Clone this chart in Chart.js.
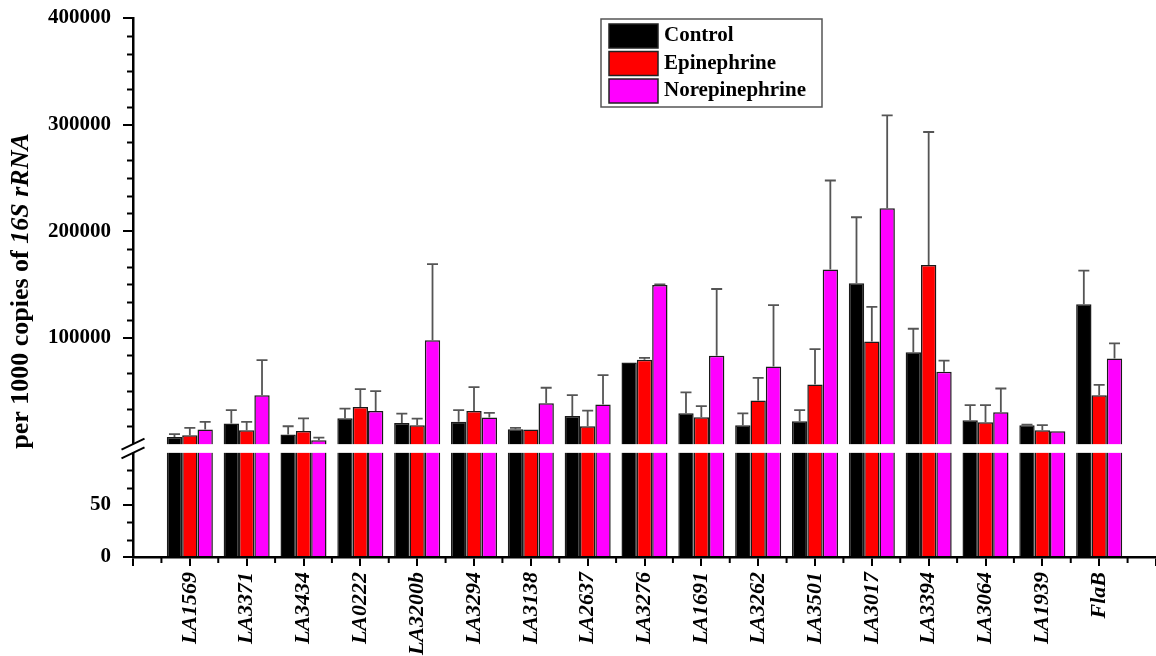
<!DOCTYPE html>
<html>
<head>
<meta charset="utf-8">
<script src="https://cdn.jsdelivr.net/npm/chart.js@4"></script>
<style>
  html, body { margin: 0; padding: 0; background: #ffffff; }
  #wrap { width: 1156px; height: 656px; }
</style>
</head>
<body>
<div id="wrap"><canvas id="chart" width="1156" height="656"></canvas></div>
<script>
// Gene targets on the x axis
const genes = ['LA1569', 'LA3371', 'LA3434', 'LA0222', 'LA3200b', 'LA3294', 'LA3138', 'LA2637',
  'LA3276', 'LA1691', 'LA3262', 'LA3501', 'LA3017', 'LA3394', 'LA3064', 'LA1939', 'FlaB'];

// Copies per 1000 copies of 16S rRNA (mean) and upper error (SD)
const control        = [6900, 19400, 9100, 24500, 20000, 21000, 14100, 26600, 76800, 29000, 17900, 21600, 151000, 86300, 22600, 17900, 131300];
const controlErr     = [2500, 12600, 7800, 9000, 8700, 11000, 1200, 19400, 0, 19600, 11100, 10400, 62000, 22100, 14100, 500, 31700];
const epinephrine    = [8500, 13200, 12500, 35000, 17800, 31300, 13800, 16900, 79200, 25400, 41000, 56000, 96500, 168200, 20700, 13200, 46000];
const epinephrineErr = [6800, 7800, 11700, 16700, 6200, 22300, 0, 14700, 1800, 10300, 21300, 33300, 32500, 124800, 16000, 4700, 9700];
const norepinephrine    = [13800, 46000, 3800, 31200, 97700, 25000, 38500, 37300, 149400, 83000, 73000, 164000, 221500, 68000, 30000, 12200, 80500];
const norepinephrineErr = [7200, 33000, 2500, 18600, 71300, 4400, 14500, 27500, 600, 62700, 57600, 83500, 87100, 10500, 22300, 0, 14100];

// Labelled y ticks (lower segment 0-100, upper segment 100-400000)
const yTickValues = [0, 50, 100000, 200000, 300000, 400000];

const SERIF = "'Liberation Serif', 'Times New Roman', serif";

// Broken y axis: [0, 100] in the lower band, [100, 400000] in the upper band
const AXIS_BREAK = { low: 100, high: 100, top: 400000, lowShare: 0.1932, gapShare: 0.0162 };

class BrokenLinearScale extends Chart.LinearScale {
  _bands() {
    const h = this.bottom - this.top;
    const lowH = h * AXIS_BREAK.lowShare;
    const gapH = h * AXIS_BREAK.gapShare;
    return { lowH, gapH, upH: h - lowH - gapH };
  }
  getPixelForValue(value) {
    const { lowH, gapH, upH } = this._bands();
    if (value <= AXIS_BREAK.low) {
      return this.bottom - Math.max(value, 0) / AXIS_BREAK.low * lowH;
    }
    return this.bottom - lowH - gapH -
      (value - AXIS_BREAK.high) / (AXIS_BREAK.top - AXIS_BREAK.high) * upH;
  }
  getValueForPixel(pixel) {
    const { lowH, gapH, upH } = this._bands();
    const d = this.bottom - pixel;
    if (d <= lowH) return d / lowH * AXIS_BREAK.low;
    return AXIS_BREAK.high + (d - lowH - gapH) / upH * (AXIS_BREAK.top - AXIS_BREAK.high);
  }
  buildTicks() {
    return yTickValues.map(v => ({ value: v }));
  }
}
BrokenLinearScale.id = 'brokenLinear';
BrokenLinearScale.defaults = {};
Chart.register(BrokenLinearScale);

// Empty slot on each side of the gene list
const labels = [''].concat(genes, ['']);
const pad = arr => [null].concat(arr, [null]);

const series = [
  { label: 'Control', data: control, err: controlErr, color: '#000000' },
  { label: 'Epinephrine', data: epinephrine, err: epinephrineErr, color: '#ff0000' },
  { label: 'Norepinephrine', data: norepinephrine, err: norepinephrineErr, color: '#ff00ff' }
];

// White band through the bars and the double-slash marks on the axis
const breakPlugin = {
  id: 'axisBreak',
  afterDatasetsDraw(chart) {
    const { ctx, chartArea, scales: { y } } = chart;
    const yHi = y.getPixelForValue(AXIS_BREAK.high + 1e-6);
    const yLo = y.getPixelForValue(AXIS_BREAK.low);
    ctx.save();
    ctx.fillStyle = '#ffffff';
    ctx.fillRect(chartArea.left + 2, yHi, chartArea.right - chartArea.left, yLo - yHi);
    ctx.restore();
  },
  afterDraw(chart) {
    const { ctx, scales: { y } } = chart;
    const x0 = y.right;
    const yHi = y.getPixelForValue(AXIS_BREAK.high + 1e-6);
    const yLo = y.getPixelForValue(AXIS_BREAK.low);
    const dx = 11.5, dy = 5.5;
    ctx.save();
    ctx.fillStyle = '#ffffff';
    ctx.beginPath();
    ctx.moveTo(x0 - dx, yHi + dy); ctx.lineTo(x0 + dx, yHi - dy);
    ctx.lineTo(x0 + dx, yLo - dy); ctx.lineTo(x0 - dx, yLo + dy);
    ctx.closePath(); ctx.fill();
    ctx.strokeStyle = '#000000'; ctx.lineWidth = 2;
    [yHi, yLo].forEach(yy => {
      ctx.beginPath(); ctx.moveTo(x0 - dx, yy + dy); ctx.lineTo(x0 + dx, yy - dy); ctx.stroke();
    });
    ctx.restore();
  }
};

// Upper error whiskers with caps
const errorBarPlugin = {
  id: 'errorBars',
  afterDatasetsDraw(chart) {
    const { ctx, scales: { y } } = chart;
    ctx.save();
    ctx.strokeStyle = '#555555';
    ctx.lineWidth = 1.8;
    chart.data.datasets.forEach((ds, di) => {
      const meta = chart.getDatasetMeta(di);
      meta.data.forEach((bar, i) => {
        const v = ds.data[i], e = ds.errors[i];
        if (v == null || !e) return;
        const yTop = y.getPixelForValue(v + e);
        const yBar = y.getPixelForValue(v);
        ctx.beginPath();
        ctx.moveTo(bar.x, yBar); ctx.lineTo(bar.x, yTop);
        ctx.moveTo(bar.x - 5.5, yTop); ctx.lineTo(bar.x + 5.5, yTop);
        ctx.stroke();
      });
    });
    ctx.restore();
  }
};

// Minor tick marks on both axes
const minorTickPlugin = {
  id: 'minorTicks',
  afterDraw(chart) {
    const { ctx, scales: { x, y } } = chart;
    ctx.save();
    ctx.strokeStyle = '#000000';
    ctx.lineWidth = 2;
    const yMinor = [];
    for (let k = 1; k < 6; k++) if (k !== 3) yMinor.push(k * 50 / 3);
    for (let k = 1; k < 24; k++) if (k % 6 !== 0) yMinor.push(k * 100000 / 6);
    yMinor.forEach(v => {
      const py = Math.round(y.getPixelForValue(v)) + 0.5;
      ctx.beginPath(); ctx.moveTo(y.right - 6, py); ctx.lineTo(y.right, py); ctx.stroke();
    });
    for (let i = 0; i < labels.length - 1; i++) {
      const px = (x.getPixelForValue(i) + x.getPixelForValue(i + 1)) / 2;
      ctx.beginPath(); ctx.moveTo(px, x.top); ctx.lineTo(px, x.top + 6); ctx.stroke();
    }
    ctx.restore();
  }
};

// Boxed legend in the upper middle of the plot
const legendPlugin = {
  id: 'boxLegend',
  afterDraw(chart) {
    const { ctx, chartArea } = chart;
    const left = chartArea.left + 468, top = chartArea.top + 1;
    const w = 221, rowH = 27.5;
    ctx.save();
    ctx.strokeStyle = '#555555'; ctx.lineWidth = 1.5;
    ctx.strokeRect(left, top, w, 88);
    ctx.font = `bold 21px ${SERIF}`;
    ctx.textBaseline = 'middle';
    chart.data.datasets.forEach((ds, i) => {
      const ry = top + 5 + i * rowH;
      ctx.fillStyle = ds.backgroundColor;
      ctx.fillRect(left + 8, ry, 49, 24);
      ctx.strokeStyle = '#222222'; ctx.lineWidth = 1.5;
      ctx.strokeRect(left + 8, ry, 49, 24);
      ctx.fillStyle = '#000000';
      ctx.fillText(ds.label, left + 63, ry + 12);
    });
    ctx.restore();
  }
};

// Vertical y axis title with the italic gene name
const yTitlePlugin = {
  id: 'yTitle',
  afterDraw(chart) {
    const { ctx } = chart;
    const parts = [
      { t: 'per 1000 copies of ', f: `bold 26px ${SERIF}` },
      { t: '16S rRNA', f: `italic bold 26px ${SERIF}` }
    ];
    ctx.save();
    let total = 0;
    parts.forEach(p => { ctx.font = p.f; p.w = ctx.measureText(p.t).width; total += p.w; });
    ctx.translate(28, 291);
    ctx.rotate(-Math.PI / 2);
    ctx.fillStyle = '#000000';
    ctx.textBaseline = 'alphabetic';
    let cx = -total / 2;
    parts.forEach(p => { ctx.font = p.f; ctx.fillText(p.t, cx, 0); cx += p.w; });
    ctx.restore();
  }
};

new Chart(document.getElementById('chart'), {
  type: 'bar',
  data: {
    labels,
    datasets: series.map(s => ({
      label: s.label,
      data: pad(s.data),
      errors: pad(s.err),
      backgroundColor: s.color,
      borderColor: '#1a1a1a',
      borderWidth: 1.5,
      categoryPercentage: 0.81,
      barPercentage: 1.0
    }))
  },
  options: {
    responsive: false,
    animation: false,
    devicePixelRatio: 1,
    layout: { padding: { top: 18, right: 0, bottom: 0, left: 0 } },
    plugins: { legend: { display: false }, tooltip: { enabled: false } },
    scales: {
      x: {
        type: 'category',
        offset: false,
        grid: { display: true, drawOnChartArea: false, drawTicks: true, tickLength: 9,
                color: '#000000', lineWidth: 2, offset: false },
        border: { display: true, color: '#000000', width: 2.5 },
        ticks: { autoSkip: false, maxRotation: 90, minRotation: 90, padding: 6,
                 color: '#000000', font: { family: SERIF, size: 22, weight: 'bold', style: 'italic' } },
        afterFit(scale) {
          scale.height = 99;
          scale.paddingLeft = 0;
          scale.paddingRight = 0;
        }
      },
      y: {
        type: 'brokenLinear',
        min: 0,
        max: 400000,
        grid: { display: true, drawOnChartArea: false, drawTicks: true, tickLength: 10,
                color: '#000000', lineWidth: 2 },
        border: { display: true, color: '#000000', width: 2.5 },
        ticks: { padding: 12, color: '#000000', callback: v => String(v),
                 font: { family: SERIF, size: 21, weight: 'bold' } },
        afterFit(scale) {
          scale.width = 133;
          scale.paddingTop = 0;
          scale.paddingBottom = 0;
        }
      }
    }
  },
  plugins: [breakPlugin, errorBarPlugin, minorTickPlugin, legendPlugin, yTitlePlugin]
});
</script>
</body>
</html>
